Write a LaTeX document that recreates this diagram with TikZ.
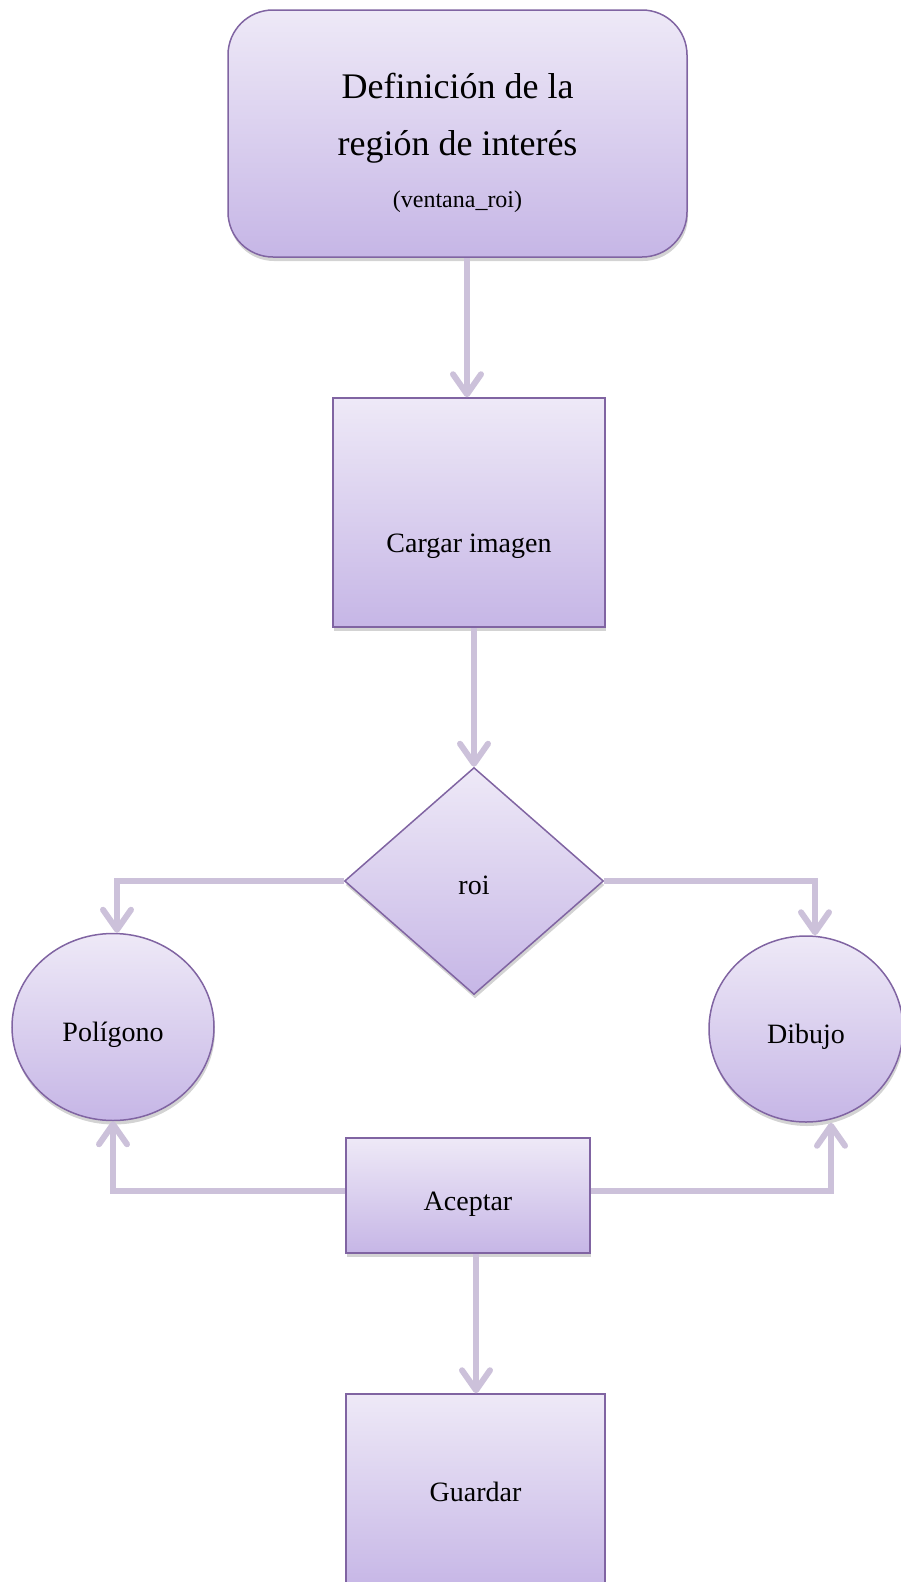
\documentclass[tikz,border=0pt]{standalone}
\usepackage{fontspec}
\setmainfont{Liberation Serif}
\usetikzlibrary{shapes.geometric,arrows.meta,shadows}
\definecolor{bordemorado}{RGB}{128,100,162}
\definecolor{lineamorado}{RGB}{204,193,218}
\definecolor{arribamorado}{RGB}{238,233,247}
\definecolor{abajomorado}{RGB}{198,182,230}
\tikzstyle{mybox} = [draw=bordemorado, line width=1.5pt,
    top color=arribamorado, bottom color=abajomorado, inner sep=0pt,
    drop shadow={shadow xshift=1pt, shadow yshift=-4pt, opacity=0.35},
    font=\fontsize{28}{34}\selectfont]
\tikzstyle{startbox} = [mybox, rectangle, rounded corners=45pt, align=center,
    minimum width=459pt, minimum height=247pt]
\tikzstyle{procbox} = [mybox, rectangle]
\tikzstyle{choicebox} = [mybox, diamond, minimum width=259pt, minimum height=227pt]
\tikzstyle{ovalbox} = [mybox, ellipse]
\tikzstyle{lowtext} = [text height=35pt, text depth=6pt]
\tikzstyle{conn} = [line width=6pt, draw=lineamorado,
    -{Straight Barb[length=20pt,width=28pt,round]}]

\begin{document}
\begin{tikzpicture}[x=1pt,y=-1pt]
\useasboundingbox (0,0) rectangle (901,1582);
\node[startbox, font=\fontsize{36}{57}\selectfont] (ventana) at (457.5,133.5) {
    \rule{0pt}{45pt}Definición de la\\región de interés\\[-5pt]{\fontsize{24}{29}\selectfont(ventana\_roi)}};
\node[procbox, minimum width=272pt, minimum height=229pt] (cargar) at (469,512.5)
    {\raisebox{-34pt}[\height][\depth]{Cargar imagen}};
\node[choicebox, text height=30pt, text depth=3pt] (roi) at (474,881) {roi};
\node[ovalbox, lowtext, minimum width=202pt, minimum height=187pt] (poligono) at (113,1027) {Polígono};
\node[ovalbox, lowtext, minimum width=194pt, minimum height=186pt] (dibujo) at (806,1029) {Dibujo};
\node[procbox, lowtext, minimum width=244pt, minimum height=115pt] (aceptar) at (468,1195.5) {Aceptar};
\node[procbox, minimum width=259pt, minimum height=196pt] (guardar) at (475.5,1492) {Guardar};

\draw[conn] ([xshift=9.5pt]ventana.south) -- ([xshift=-2pt]cargar.north);
\draw[conn] (roi.north |- cargar.south) -- (roi.north);
\draw[conn] (roi.west) -| ([xshift=4pt]poligono.north);
\draw[conn] (roi.east) -| ([xshift=9pt]dibujo.north);
\draw[conn] ([yshift=4.5pt]aceptar.west) -| (poligono.south);
\draw[conn] ([yshift=4.5pt]aceptar.east) -| ([xshift=25pt]dibujo.south);
\draw[conn] ([xshift=8pt]aceptar.south) -- ([xshift=8pt]aceptar.south |- guardar.north);
\end{tikzpicture}
\end{document}
